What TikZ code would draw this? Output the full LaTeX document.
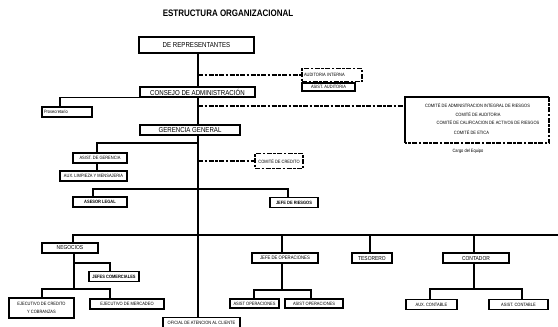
\documentclass[tikz,border=0pt]{standalone}
\usepackage{fontspec}
\setmainfont{Liberation Sans}[FakeStretch=0.85]
\usetikzlibrary{positioning}

\begin{document}
\begin{tikzpicture}[
  x=1pt, y=-1pt,
  every node/.style={font=\fontsize{4.7}{5}\selectfont, inner sep=0pt},
  box/.style={draw=black, line width=1.7pt, fill=white, minimum height=10pt},
  bigbox/.style={box, font=\fontsize{7.2}{8}\selectfont},
  midbox/.style={box, font=\fontsize{5.8}{6.5}\selectfont},
  dbox/.style={draw=black, line width=1.6pt, dash pattern=on 5pt off 1.5pt on 2.5pt off 1.5pt, fill=white},
  link/.style={line width=1.2pt},
  dlink/.style={line width=1.6pt, dash pattern=on 5pt off 1.5pt on 2.5pt off 1.5pt}
]
\useasboundingbox (0,0) rectangle (558,327);
\node[font=\bfseries\fontsize{9.4}{10}\selectfont] (titulo) at (228,13) {ESTRUCTURA ORGANIZACIONAL};
\coordinate (trunk) at (198,0);

% direccion
\node[bigbox, minimum width=115pt, minimum height=16pt] (rep) at (196.5,45) {DE REPRESENTANTES};
\node[bigbox, minimum width=115pt] (consejo) at (197.5,92) {CONSEJO DE ADMINISTRACIÓN};
\node[dbox, minimum height=13pt, text width=56pt, inner xsep=2pt, align=left] (audint) at (332,75) {AUDITORIA INTERNA};
\node[box, minimum width=53pt, minimum height=8pt] (asistaud) at (328.5,87) {ASIST. AUDITORIA};
\node[box, text width=46pt, inner xsep=2pt, align=left] (prosec) at (67,112) {Prosecretario};

% comites
\node[minimum width=144pt, minimum height=46pt] (comites) at (477,120) {};
\node (cair) at (477.5,105) {COMITÉ DE ADMINISTRACION INTEGRAL DE RIESGOS};
\node (caud) at (478,114) {COMITÉ DE AUDITORIA};
\node (ccal) at (488,122) {COMITÉ DE CALIFICACION DE ACTIVOS DE RIESGOS};
\node (ceti) at (471.5,132) {COMITÉ DE ETICA};
\node (cargo) at (468,151) {Cargo del Equipo};

% gerencia
\node[bigbox, minimum width=100pt] (gerencia) at (190,130) {GERENCIA GENERAL};
\node[box, minimum width=54pt] (asistger) at (100,158) {ASIST.\ DE GERENCIA};
\node[box, minimum width=67pt] (auxlim) at (93.5,176) {AUX.\ LIMPIEZA Y MENSAJERIA};
\node[dbox, minimum width=48pt, minimum height=15pt] (comcred) at (279,161) {COMITÉ DE CREDITO};
\node[box, minimum width=54pt, font=\bfseries\fontsize{4.7}{5}\selectfont] (asesor) at (100,202) {ASESOR LEGAL};
\node[box, minimum width=48pt, font=\bfseries\fontsize{4.7}{5}\selectfont] (riesgos) at (294,202.5) {JEFE DE RIESGOS};

% areas
\node[midbox, minimum width=56pt] (negocios) at (70,248) {NEGOCIOS};
\node[box, minimum width=50pt, font=\bfseries\fontsize{4.7}{5}\selectfont] (jefcom) at (114,276.5) {JEFES COMERCIALES};
\node[box, minimum width=65pt, minimum height=20pt, align=center] (ejcred) at (41.5,308) {EJECUTIVO DE CREDITO\\[3pt] Y COBRANZAS};
\node[box, minimum width=74pt] (ejmerc) at (127,304) {EJECUTIVO DE MERCADEO};
\node[box, minimum width=77pt] (oficial) at (201.5,322.5) {OFICIAL DE ATENCION AL CLIENTE};
\node[midbox, font=\fontsize{5}{6}\selectfont, minimum width=66pt] (jefeop) at (285,258) {JEFE DE OPERACIONES};
\node[box, minimum width=49pt, minimum height=9pt] (asop1) at (254.5,303.5) {ASIST OPERACIONES};
\node[box, minimum width=58pt, minimum height=9pt] (asop2) at (314,303.5) {ASIST OPERACIONES};
\node[midbox, minimum width=40pt] (tesorero) at (372,258) {TESORERO};
\node[midbox, minimum width=66pt] (contador) at (476,258) {CONTADOR};
\node[box, minimum width=51pt] (auxcont) at (431.5,304.5) {AUX.\ CONTABLE};
\node[box, minimum width=59pt] (asistcont) at (518.5,304.5) {ASIST.\ CONTABLE};

% tronco
\draw[link] (rep.south -| trunk) -- (consejo.north -| trunk);
\draw[link] (consejo.south -| trunk) -- (gerencia.north -| trunk);
\draw[link] (gerencia.south -| trunk) -- (oficial.north -| trunk);

% consejo
\draw[dlink] (trunk |- audint.west) -- (audint.west);
\coordinate (jaud) at (320,0);
\draw[link] (audint.south -| jaud) -- (asistaud.north -| jaud);
\coordinate (jpro) at (60,0);
\draw[link] (trunk |- consejo.south) -| (prosec.north -| jpro);
\coordinate (jcom) at (405,106);
\draw[dlink] (trunk |- jcom) -- (comites.west |- jcom);
\draw[line width=1.7pt] (comites.south west) -- (comites.north west) -- (comites.north east);
\draw[dlink] (comites.north east) -- (comites.south east) -- (comites.south west);

% gerencia
\coordinate (jger) at (97,143);
\draw[link] (trunk |- jger) -| (asistger.north -| jger);
\draw[link] (asistger.south -| jger) -- (auxlim.north -| jger);
\draw[dlink] (trunk |- comcred.west) -- (comcred.west);
\coordinate (jase) at (93,189);
\coordinate (jrie) at (288,189);
\draw[link] (asesor.north -| jase) |- (jrie) -- (riesgos.north -| jrie);

% areas
\coordinate (jneg) at (73,235);
\coordinate (redge) at (558,235);
\draw[link] (negocios.north -| jneg) |- (redge);
\coordinate (jop) at (282,235);
\draw[link] (jop) -- (jefeop.north -| jop);
\coordinate (jtes) at (370,235);
\draw[link] (jtes) -- (tesorero.north -| jtes);
\coordinate (jcon) at (474,235);
\draw[link] (jcon) -- (contador.north -| jcon);

% negocios
\coordinate (jn1) at (74,263);
\coordinate (jn2) at (110,289);
\coordinate (jn3) at (42,289);
\draw[link] (negocios.south -| jn1) -- (jn1) -| (jefcom.north -| jn2);
\draw[link] (jn1) -- (jn1 |- jn2);
\draw[link] (ejcred.north -| jn3) -- (jn3) -- (jn2) -- (ejmerc.north -| jn2);

% operaciones
\coordinate (jo1) at (254,290);
\coordinate (jo2) at (311,290);
\draw[link] (jefeop.south -| jop) -- (jop |- jo1);
\draw[link] (asop1.north -| jo1) -- (jo1) -- (jo2) -- (asop2.north -| jo2);

% contador
\coordinate (jc1) at (430,289);
\coordinate (jc2) at (522,289);
\draw[link] (contador.south -| jcon) -- (jcon |- jc1);
\draw[link] (auxcont.north -| jc1) -- (jc1) -- (jc2) -- (asistcont.north -| jc2);
\end{tikzpicture}
\end{document}
